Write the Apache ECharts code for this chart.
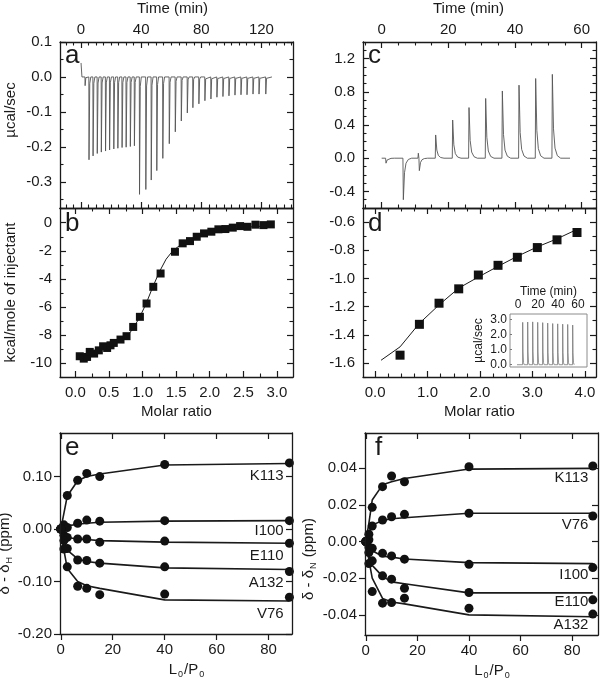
<!DOCTYPE html>
<html><head><meta charset="utf-8">
<script src="https://cdn.jsdelivr.net/npm/echarts@6/dist/echarts.min.js"></script>
<style>html,body{margin:0;padding:0;background:#fff}#c{width:600px;height:682px}</style>
</head><body><div id="c"></div>
<script>
// ================= DATA =================
// Panel a: raw ITC trace
const aStart = [[0.0, 0.04], [0.6, 0.0]];
const aSpikeTime = [2.7, 5.3, 8.0, 10.8, 13.5, 16.3, 19.0, 21.8, 24.5, 27.3, 30.0, 32.8, 35.5, 38.9, 43.1, 46.7, 50.4, 54.4, 58.7, 62.7, 66.7, 70.7, 74.4, 78.4, 82.4, 86.4, 90.4, 94.4, 98.4, 102.4, 106.4, 110.4, 114.4, 118.4, 122.9];
const aSpikeDepth = [-0.025, -0.237, -0.226, -0.219, -0.215, -0.212, -0.209, -0.206, -0.204, -0.202, -0.201, -0.199, -0.197, -0.336, -0.322, -0.295, -0.268, -0.233, -0.191, -0.157, -0.126, -0.103, -0.088, -0.077, -0.068, -0.063, -0.058, -0.056, -0.054, -0.052, -0.051, -0.051, -0.049, -0.049, -0.049];
const aEnd = 127;
const aTimeTicks = [0, 40, 80, 120];
const aYTicks = [0.1, 0.0, -0.1, -0.2, -0.3];

// Panel b: integrated heats
const bMolar = [0.064, 0.124, 0.173, 0.213, 0.278, 0.348, 0.412, 0.472, 0.522, 0.571, 0.671, 0.761, 0.860, 0.960, 1.059, 1.159, 1.268, 1.482, 1.597, 1.706, 1.806, 1.915, 2.024, 2.129, 2.233, 2.343, 2.452, 2.562, 2.681, 2.800, 2.910];
const bHeat = [-9.52, -9.69, -9.57, -9.21, -9.33, -9.10, -8.81, -8.93, -8.74, -8.57, -8.33, -8.09, -7.43, -6.71, -5.76, -4.57, -3.62, -2.07, -1.47, -1.31, -1.00, -0.76, -0.64, -0.47, -0.45, -0.35, -0.24, -0.29, -0.14, -0.17, -0.12];
const bFitX = [0.05, 0.2, 0.4, 0.6, 0.75, 0.85, 0.95, 1.05, 1.15, 1.25, 1.35, 1.45, 1.6, 1.8, 2.0, 2.3, 2.6, 2.93];
const bFitY = [-9.65, -9.35, -9.0, -8.6, -8.2, -7.6, -6.8, -5.8, -4.6, -3.5, -2.6, -2.0, -1.45, -1.0, -0.7, -0.45, -0.3, -0.2];
const bMolarTicks = [0, 0.5, 1.0, 1.5, 2.0, 2.5, 3.0];
const bHeatTicks = [0, -2, -4, -6, -8, -10];

// Panel c: raw ITC trace
const cEventTime = [1.3, 6.5, 11.0, 11.3, 16.2, 21.3, 26.2, 31.2, 36.2, 41.2, 46.2, 51.2];
const cEventPeak = [-0.06, -0.50, 0.06, -0.15, 0.28, 0.46, 0.61, 0.72, 0.81, 0.88, 0.96, 1.01];
const cStart = 0, cEnd = 56.5;
const cTimeTicks = [0, 20, 40, 60];
const cYTicks = [1.2, 0.8, 0.4, 0.0, -0.4];

// Panel d: integrated heats
const dMolar = [0.476, 0.845, 1.219, 1.594, 1.968, 2.343, 2.711, 3.092, 3.467, 3.848];
const dHeat = [-1.545, -1.326, -1.176, -1.074, -0.976, -0.907, -0.850, -0.781, -0.726, -0.674];
const dFitX = [0.114, 0.476, 0.845, 1.219, 1.594, 1.968, 2.343, 2.711, 3.092, 3.467, 3.848];
const dFitY = [-1.581, -1.486, -1.319, -1.188, -1.069, -0.990, -0.914, -0.843, -0.776, -0.719, -0.652];
const dMolarTicks = [0, 1, 2, 3, 4];
const dHeatTicks = [-0.6, -0.8, -1.0, -1.2, -1.4, -1.6];

// Inset of d: control trace
const insetTime = [4.7, 9.7, 14.7, 19.7, 24.7, 29.7, 34.7, 39.7, 44.7, 49.7, 54.7];
const insetPeak = [2.80, 2.82, 2.83, 2.80, 2.78, 2.75, 2.72, 2.70, 2.68, 2.66, 2.62];
const insetStart = -1, insetEnd = 56.5;
const insetTimeTicks = [0, 20, 40, 60];
const insetYTicks = [0, 1, 2, 3];

// Panels e, f: NMR titration
const lpRatio = [0, 1.2, 2.5, 6.5, 10, 15, 40, 88];
const eNames = ['K113', 'I100', 'E110', 'A132', 'V76'];
const eK113 = [0.000, 0.008, 0.064, 0.093, 0.106, 0.100, 0.123, 0.126];
const eI100 = [0.000, 0.004, 0.003, 0.011, 0.017, 0.015, 0.016, 0.016];
const eE110 = [0.000, -0.012, -0.016, -0.019, -0.019, -0.025, -0.023, -0.027];
const eA132 = [0.000, -0.022, -0.037, -0.059, -0.060, -0.065, -0.072, -0.081];
const eV76 = [0.000, -0.038, -0.072, -0.109, -0.113, -0.125, -0.124, -0.130];
const eFitK113 = [0, 0.030, 0.063, 0.092, 0.100, 0.105, 0.122, 0.125];
const eFitI100 = [0, 0.004, 0.006, 0.009, 0.011, 0.013, 0.015, 0.016];
const eFitE110 = [0, -0.010, -0.016, -0.019, -0.020, -0.022, -0.025, -0.027];
const eFitA132 = [0, -0.022, -0.040, -0.057, -0.062, -0.065, -0.074, -0.077];
const eFitV76 = [0, -0.040, -0.075, -0.100, -0.108, -0.113, -0.135, -0.137];
const eLabelX = 85.8;
const eLabelY = [0.1015, -0.003, -0.051, -0.102, -0.162];
const eXTicks = [0, 20, 40, 60, 80];
const eYTicks = [0.10, 0.00, -0.10, -0.20];

const fNames = ['K113', 'V76', 'I100', 'E110', 'A132'];
const fK113 = [0, 0.004, 0.0187, 0.0300, 0.0358, 0.0327, 0.0409, 0.0413];
const fV76 = [0, 0.001, 0.0085, 0.0118, 0.0136, 0.0149, 0.0155, 0.0140];
const fI100 = [0, -0.003, -0.0036, -0.0064, -0.0078, -0.0096, -0.0124, -0.0142];
const fE110 = [0, -0.006, -0.0105, -0.0187, -0.0205, -0.0255, -0.0278, -0.0318];
const fA132 = [0, -0.012, -0.0273, -0.0336, -0.0333, -0.0309, -0.0364, -0.0396];
const fFitK113 = [0, 0.010, 0.0227, 0.0310, 0.0327, 0.0345, 0.0396, 0.0400];
const fFitV76 = [0, 0.004, 0.0090, 0.0115, 0.0125, 0.0130, 0.0155, 0.0155];
const fFitI100 = [0, -0.003, -0.0050, -0.0080, -0.0085, -0.0095, -0.0115, -0.0120];
const fFitE110 = [0, -0.007, -0.0130, -0.0190, -0.0220, -0.0230, -0.0280, -0.0280];
const fFitA132 = [0, -0.010, -0.0200, -0.0310, -0.0330, -0.0340, -0.0400, -0.0410];
const fLabelX = 86.3;
const fLabelY = [0.0346, 0.0091, -0.0182, -0.0327, -0.0454];
const fXTicks = [0, 20, 40, 60, 80];
const fYTicks = [0.04, 0.02, 0.00, -0.02, -0.04];

// ================= BUILD =================
const FONT = '"Liberation Sans", Arial, Helvetica, sans-serif';
const INK = '#1a1a1a';
const xAxes = [], yAxes = [];

function minorList(min, max, step, majors) {
  const out = [];
  const k0 = Math.ceil(min / step - 1e-9), k1 = Math.floor(max / step + 1e-9);
  for (let k = k0; k <= k1; k++) {
    const v = +(k * step).toFixed(6);
    if (!majors.some(m => Math.abs(m - v) < step * 1e-3)) out.push(v);
  }
  return out;
}
function side(kind, grid, position, min, max, major, minorStep, cfg) {
  cfg = cfg || {};
  const list = kind === 'x' ? xAxes : yAxes;
  const inside = cfg.inside !== false;
  const color = cfg.color || INK;
  const main = {
    type: 'value', gridIndex: grid, position: position, min: min, max: max,
    splitLine: { show: false },
    axisLine: { show: cfg.line !== false, onZero: false, lineStyle: { color: color, width: cfg.lw || 1.3 } },
    axisTick: { show: cfg.ticks !== false, inside: inside, length: cfg.tickLen || 6, customValues: major, lineStyle: { color: color, width: 1.2 } },
    axisLabel: { show: !!cfg.labels, customValues: major, formatter: cfg.fmt, margin: cfg.margin || 8, color: INK, fontSize: cfg.fs || 15, fontFamily: FONT },
    z: 10
  };
  if (cfg.name) {
    main.name = cfg.name;
    main.nameLocation = 'middle';
    main.nameGap = cfg.nameGap;
    main.nameTextStyle = Object.assign({ color: INK, fontSize: cfg.nfs || 15, fontFamily: FONT }, cfg.nts || {});
  }
  list.push(main);
  const idx = list.length - 1;
  if (minorStep) {
    list.push({
      type: 'value', gridIndex: grid, position: position, min: min, max: max,
      splitLine: { show: false }, axisLine: { show: false, onZero: false }, axisLabel: { show: false },
      axisTick: { show: true, inside: inside, length: cfg.minorLen || 3.5, customValues: minorList(min, max, minorStep, major), lineStyle: { color: color, width: 1.1 } },
      z: 10
    });
  }
  return idx;
}
function pulseTrace(start, times, peaks, end, tail) {
  const pts = [[start, 0]];
  for (let i = 0; i < times.length; i++) {
    const t = times[i], h = peaks[i];
    const next = i + 1 < times.length ? times[i + 1] - 0.12 : end;
    if (t - 0.12 > pts[pts.length - 1][0]) pts.push([t - 0.12, 0]);
    pts.push([t, h]);
    for (const [dt, f] of tail) {
      if (t + dt < next) pts.push([t + dt, h * f]);
    }
  }
  pts.push([end, 0]);
  return pts;
}
const zip = (xs, ys) => xs.map((x, i) => [x, ys[i]]);
const subRich = { s: { fontSize: 9, padding: [9, 1, 0, 1], fontFamily: FONT, color: INK } };

const grids = [
  { left: 60, top: 42, width: 233, height: 166 },
  { left: 60, top: 208, width: 233, height: 169 },
  { left: 363, top: 42, width: 233, height: 166 },
  { left: 363, top: 208, width: 233, height: 169 },
  { left: 510, top: 314, width: 77, height: 53, show: true, borderColor: '#8c8c8c', borderWidth: 1, backgroundColor: '#fff' },
  { left: 60, top: 433, width: 232, height: 201 },
  { left: 365, top: 433, width: 233, height: 202 }
].map(g => Object.assign({ outerBoundsMode: 'none', containLabel: false }, g));

const f1 = v => v.toFixed(1), f2 = v => v.toFixed(2);
// Panel a
const aX = side('x', 0, 'top', -14, 141, aTimeTicks, 5, { labels: true, margin: 5, name: 'Time (min)', nameGap: 26, nts: { padding: [0, 8, 0, 0] } });
side('x', 0, 'bottom', -14, 141, aTimeTicks, 5, {});
const aY = side('y', 0, 'left', -0.375, 0.1, aYTicks, 0.05, { labels: true, fmt: f1, name: 'µcal/sec', nameGap: 42, nts: { padding: [0, 0, 0, 30] } });
side('y', 0, 'right', -0.375, 0.1, aYTicks, 0.05, {});
// Panel b
const bX = side('x', 1, 'bottom', -0.23, 3.24, bMolarTicks, 0.25, { labels: true, fmt: f1, name: 'Molar ratio', nameGap: 27 });
side('x', 1, 'top', -0.23, 3.24, bMolarTicks, 0.25, {});
const bY = side('y', 1, 'left', -11, 1.05, bHeatTicks, 1, { labels: true, fmt: v => String(v), name: 'kcal/mole of injectant', nameGap: 42 });
side('y', 1, 'right', -11, 1.05, bHeatTicks, 1, {});
// Panel c
const cX = side('x', 2, 'top', -5.6, 64.3, cTimeTicks, 5, { labels: true, margin: 5, name: 'Time (min)', nameGap: 26, nts: { padding: [0, 22, 0, 0] } });
side('x', 2, 'bottom', -5.6, 64.3, cTimeTicks, 5, {});
const cY = side('y', 2, 'left', -0.6, 1.4, cYTicks, 0.1, { labels: true, fmt: f1 });
side('y', 2, 'right', -0.6, 1.4, cYTicks, 0.1, {});
// Panel d
const dX = side('x', 3, 'bottom', -0.23, 4.21, dMolarTicks, 0.25, { labels: true, fmt: f1, name: 'Molar ratio', nameGap: 27 });
side('x', 3, 'top', -0.23, 4.21, dMolarTicks, 0.25, {});
const dY = side('y', 3, 'left', -1.7, -0.5, dHeatTicks, 0.1, { labels: true, fmt: f1 });
side('y', 3, 'right', -1.7, -0.5, dHeatTicks, 0.1, {});
// Inset
const iX = side('x', 4, 'top', -8, 69, insetTimeTicks, 0, { labels: true, line: false, ticks: false, fs: 12, margin: 3, name: 'Time (min)', nfs: 12, nameGap: 15 });
const iY = side('y', 4, 'left', -0.15, 3.35, insetYTicks, 0, { labels: true, line: false, fmt: f1, fs: 12, margin: 3, tickLen: 2, color: '#777', name: 'µcal/sec', nfs: 12, nameGap: 25 });
// Panel e
const eX = side('x', 5, 'bottom', -0.3, 89, eXTicks, 0, { labels: true, inside: false, name: 'L{s|0}/P{s|0}', nameGap: 27, nts: { rich: subRich, padding: [0, 0, 0, 22] } });
side('x', 5, 'top', -0.3, 89, eXTicks, 0, {});
const eY = side('y', 5, 'left', -0.2, 0.183, eYTicks, 0, { labels: true, inside: false, fmt: f2, name: 'δ - δ{s|H} (ppm)', nameGap: 44, nts: { rich: subRich, padding: [0, 40, 0, 0] } });
side('y', 5, 'right', -0.2, 0.183, eYTicks, 0, {});
// Panel f
const fX = side('x', 6, 'bottom', -0.3, 90, fXTicks, 0, { labels: true, inside: false, name: 'L{s|0}/P{s|0}', nameGap: 27, nts: { rich: subRich, padding: [0, 0, 0, 22] } });
side('x', 6, 'top', -0.3, 90, fXTicks, 0, {});
const fY = side('y', 6, 'left', -0.051, 0.0593, fYTicks, 0, { labels: true, inside: false, fmt: f2, name: 'δ - δ{s|N} (ppm)', nameGap: 47, nts: { rich: subRich, padding: [0, 50, 0, 0] } });
side('y', 6, 'right', -0.051, 0.0593, fYTicks, 0, {});

const series = [];
const trace = (xi, yi, data, color, w) => series.push({ type: 'line', xAxisIndex: xi, yAxisIndex: yi, data: data, symbol: 'none', lineStyle: { color: color, width: w }, z: 3 });
const fit = (xi, yi, data, w) => series.push({ type: 'line', xAxisIndex: xi, yAxisIndex: yi, data: data, symbol: 'none', lineStyle: { color: INK, width: w }, z: 3 });
const dots = (xi, yi, data, sym, size) => series.push({ type: 'scatter', xAxisIndex: xi, yAxisIndex: yi, data: data, symbol: sym, symbolSize: size, itemStyle: { color: '#111', opacity: 1 }, z: 4 });

// a
const aTrace = aStart.concat(pulseTrace(aStart[aStart.length - 1][0], aSpikeTime, aSpikeDepth, aEnd, [[0.5, 0.08], [1.2, 0.0]]).slice(1));
trace(aX, aY, aTrace, '#555', 0.9);
// b
fit(bX, bY, zip(bFitX, bFitY), 1);
dots(bX, bY, zip(bMolar, bHeat), 'rect', 8);
// c
trace(cX, cY, pulseTrace(cStart, cEventTime, cEventPeak, cEnd, [[0.35, 0.35], [0.8, 0.12], [1.5, 0.03], [2.5, 0]]), '#555', 0.9);
// d
fit(dX, dY, zip(dFitX, dFitY), 1);
dots(dX, dY, zip(dMolar, dHeat), 'rect', 9);
// inset
series.push({ type: 'line', xAxisIndex: iX, yAxisIndex: iY, symbol: 'none', z: 8, lineStyle: { color: '#777', width: 0.8 },
  data: pulseTrace(insetStart, insetTime, insetPeak, insetEnd, [[0.3, 0.3], [0.8, 0.05], [1.5, 0]]) });
// e
[eFitK113, eFitI100, eFitE110, eFitA132, eFitV76].forEach(d => fit(eX, eY, zip(lpRatio, d), 1.6));
[eK113, eI100, eE110, eA132, eV76].forEach(d => dots(eX, eY, zip(lpRatio, d), 'circle', 9));
// f
[fFitK113, fFitV76, fFitI100, fFitE110, fFitA132].forEach(d => fit(fX, fY, zip(lpRatio, d), 1.6));
[fK113, fV76, fI100, fE110, fA132].forEach(d => dots(fX, fY, zip(lpRatio, d), 'circle', 9));
// residue labels
const labelSeries = (xi, yi, names, lx, ly) => series.push({
  type: 'scatter', xAxisIndex: xi, yAxisIndex: yi, symbolSize: 0, silent: true, z: 6,
  itemStyle: { opacity: 1 },
  data: names.map((n, i) => ({ name: n, value: [lx, ly[i]] })),
  label: { show: true, position: 'left', distance: 0, formatter: p => p.name, color: INK, fontSize: 15, fontFamily: FONT, opacity: 1 }
});
labelSeries(eX, eY, eNames, eLabelX, eLabelY);
labelSeries(fX, fY, fNames, fLabelX, fLabelY);

const letter = (t, x, y) => ({ type: 'text', x: x, y: y, z: 20, style: { text: t, font: '26px ' + FONT, fill: INK, verticalAlign: 'middle' } });

const chart = echarts.init(document.getElementById('c'), null, { renderer: 'canvas' });
chart.setOption({
  animation: false,
  backgroundColor: '#fff',
  grid: grids,
  xAxis: xAxes,
  yAxis: yAxes,
  series: series,
  graphic: [letter('a', 65, 56), letter('b', 65, 224), letter('c', 368, 56), letter('d', 368, 224), letter('e', 65, 448), letter('f', 375, 448)]
});
</script></body></html>
